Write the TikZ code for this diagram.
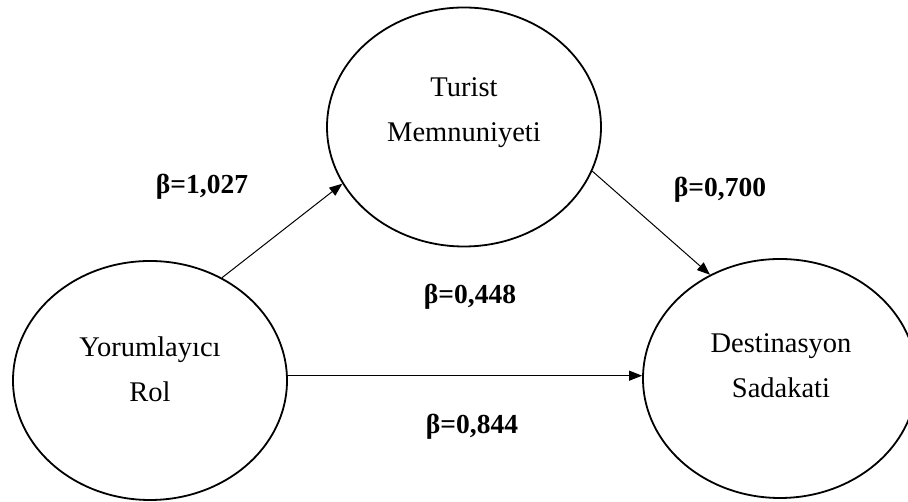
\documentclass[tikz,border=0pt]{standalone}
\usepackage{fontspec}
\setmainfont{Liberation Serif}
\usetikzlibrary{shapes.geometric,arrows.meta}
\begin{document}
\begin{tikzpicture}[x=1pt,y=1pt,
  var/.style={draw,ellipse,line width=1.8pt,minimum width=274pt,minimum height=239pt,inner sep=0pt},
  vtext/.style={align=center,font=\fontsize{28.5}{45}\selectfont,inner sep=0pt},
  coef/.style={font=\bfseries\fontsize{27.5}{32}\selectfont,inner sep=0pt},
  arr/.style={line width=1pt,-{Triangle[length=13pt,width=10pt]}}]
\useasboundingbox[fill=white] (0,0) rectangle (908,502);
\node[var] (L) at (150,121.5) {};
\node[var] (T) at (464,375) {};
\node[var] (R) at (780,123.5) {};
\node[vtext] (Ltext) at (150,133) {Yorumlayıcı\\Rol};
\node[vtext] (Ttext) at (464,389) {Turist\\Memnuniyeti};
\node[vtext] (Rtext) at (781,136) {Destinasyon\\Sadakati};
\draw[arr] (L.55) -- (T.205);
\draw[arr] (T.341.6) -- (R.124);
\draw[arr] (L.2) -- (L.2 -| R.west);
\node[coef] (b1) at (202,315) {β=1,027};
\node[coef] (b2) at (720,312) {β=0,700};
\node[coef] (b3) at (470,205) {β=0,448};
\node[coef] (b4) at (472,75) {β=0,844};
\end{tikzpicture}
\end{document}
